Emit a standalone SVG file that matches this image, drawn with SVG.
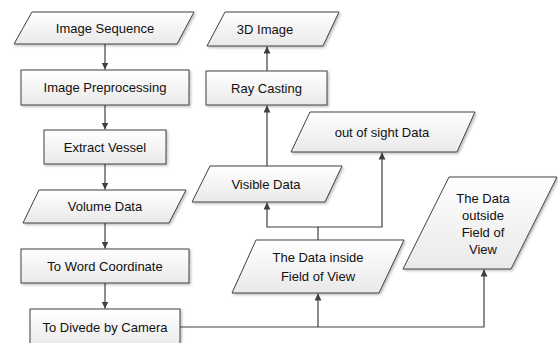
<svg xmlns="http://www.w3.org/2000/svg" width="558" height="343" viewBox="0 0 558 343">
<defs>
<linearGradient id="g" x1="0" y1="0" x2="0" y2="1">
<stop offset="0" stop-color="#ffffff"/>
<stop offset="1" stop-color="#e9e9e9"/>
</linearGradient>
<filter id="sh" x="-10%" y="-10%" width="130%" height="140%">
<feDropShadow dx="1.5" dy="1.5" stdDeviation="0.8" flood-color="#000" flood-opacity="0.25"/>
</filter>
<marker id="ah" viewBox="0 0 10 10" refX="10" refY="5" markerWidth="7" markerHeight="7" orient="auto" markerUnits="userSpaceOnUse">
<path d="M0,0 L10,5 L0,10 z" fill="#404040"/>
</marker>
</defs>
<style>
.n{fill:url(#g);stroke:#404040;stroke-width:1;filter:url(#sh)}
.t{font-family:"Liberation Sans",Arial,sans-serif;font-size:13px;fill:#111;text-anchor:middle;dominant-baseline:central}
.c{fill:none;stroke:#404040;stroke-width:1.2}
</style>
<rect width="558" height="343" fill="#fff"/>
<g id="connectors">
<path class="c" d="M105,44 V69.5" marker-end="url(#ah)"/>
<path class="c" d="M105,105 V129.5" marker-end="url(#ah)"/>
<path class="c" d="M105,164 V189.5" marker-end="url(#ah)"/>
<path class="c" d="M105,223 V248.5" marker-end="url(#ah)"/>
<path class="c" d="M105,283 V308.5" marker-end="url(#ah)"/>
<path class="c" d="M180,327 H484 V269.5" marker-end="url(#ah)"/>
<path class="c" d="M318,327 V293.5" marker-end="url(#ah)"/>
<path class="c" d="M318,240 V227 H267 V202.5" marker-end="url(#ah)"/>
<path class="c" d="M318,227 H382 V152.5" marker-end="url(#ah)"/>
<path class="c" d="M267,166 V105.5" marker-end="url(#ah)"/>
<path class="c" d="M267,71 V46.5" marker-end="url(#ah)"/>
</g>
<g id="n1"><polygon class="n" points="32,12 194,12 177,44 14,44"/><text class="t" x="105" y="28">Image Sequence</text></g>
<g id="n2"><rect class="n" x="21" y="70" width="168" height="35"/><text class="t" x="105" y="87.5">Image Preprocessing</text></g>
<g id="n3"><rect class="n" x="44" y="130" width="122" height="34"/><text class="t" x="105" y="147">Extract Vessel</text></g>
<g id="n4"><polygon class="n" points="39,190 186,190 169,223 23,223"/><text class="t" x="105" y="206.5">Volume Data</text></g>
<g id="n5"><rect class="n" x="21" y="249" width="168" height="34"/><text class="t" x="105" y="266">To Word Coordinate</text></g>
<g id="n6"><rect class="n" x="30" y="309" width="150" height="40"/><text class="t" x="105" y="327">To Divede by Camera</text></g>
<g id="n7"><polygon class="n" points="256,240 404,240 379,293 232,293"/><text class="t" x="318" y="257.5">The Data inside</text><text class="t" x="318" y="276">Field of View</text></g>
<g id="n8"><polygon class="n" points="449,177 557,177 511,269 403,269"/><text class="t" x="483" y="198">The Data</text><text class="t" x="483" y="215">outside</text><text class="t" x="483" y="232">Field of</text><text class="t" x="483" y="249">View</text></g>
<g id="n9"><polygon class="n" points="310,112 475,112 457,152 291,152"/><text class="t" x="382" y="132">out of sight Data</text></g>
<g id="n10"><polygon class="n" points="210,166 342,166 325,202 192,202"/><text class="t" x="266" y="184">Visible Data</text></g>
<g id="n11"><rect class="n" x="206" y="71" width="121" height="34"/><text class="t" x="266.5" y="88">Ray Casting</text></g>
<g id="n12"><polygon class="n" points="225,12 339,12 323,46 207,46"/><text class="t" x="265" y="29">3D Image</text></g>
</svg>
